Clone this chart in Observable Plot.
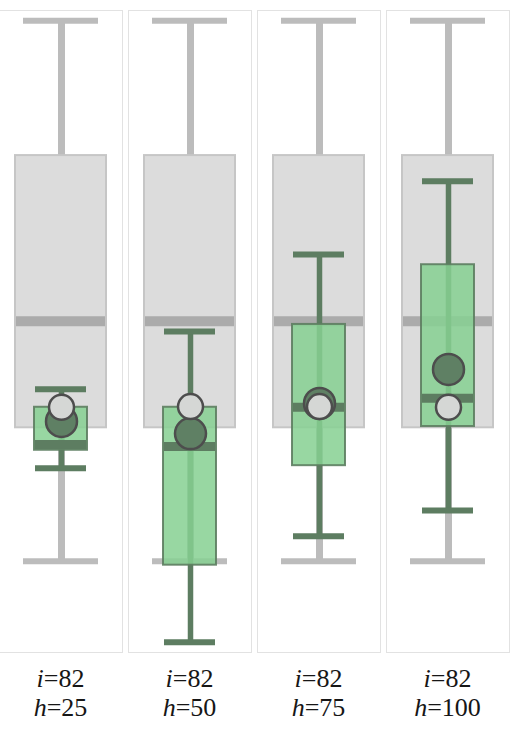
<!DOCTYPE html>
<html>
<head>
<meta charset="utf-8">
<script src="https://cdn.jsdelivr.net/npm/d3@7"></script>
<script src="https://cdn.jsdelivr.net/npm/@observablehq/plot@0.6"></script>
<style>
  body { margin: 0; background: #fff; }
  #chart { position: relative; width: 519px; }
  .labels {
    position: relative; height: 70px; margin-top: 9px;
    font-family: "Liberation Serif", "Times New Roman", Times, "DejaVu Serif", serif;
    font-size: 26px; line-height: 29px; color: #161616;
  }
  .labels div {
    position: absolute; top: 0; text-align: center;
    font-family: "Liberation Serif", "Times New Roman", Times, "DejaVu Serif", serif;
  }
</style>
</head>
<body>
<div id="chart"></div>
<script>
// panel conditions
const hLevels = [25, 50, 75, 100];
const iLevels = [82, 82, 82, 82];

// green boxes, one per panel (values on a 0-100 scale)
const whiskerLow = [28.7, 1.6, 18.1, 22.1];
const boxLow = [31.5, 13.6, 29.1, 35.2];
const medians = [32.4, 32.1, 38.2, 39.6];
const boxHigh = [38.2, 38.2, 51.1, 60.4];
const whiskerHigh = [41.0, 50.0, 62.0, 73.4];
const darkDots = [36.0, 34.1, 38.8, 44.1];
const lightDots = [38.2, 38.3, 38.3, 38.2];

// grey reference box, the same in every panel: low whisker, q1, median, q3, high whisker
const baseline = [14.2, 35.0, 51.6, 77.4, 98.4];

const rows = hLevels.map((h, k) => ({
  h, i: iLevels[k],
  lo: whiskerLow[k], q1: boxLow[k], med: medians[k], q3: boxHigh[k], hi: whiskerHigh[k],
  dark: darkDots[k], light: lightDots[k],
  bLo: baseline[0], bQ1: baseline[1], bMed: baseline[2], bQ3: baseline[3], bHi: baseline[4]
}));

const grey = "#bcbcbc";
const green = "#5d7d61";
const mid = () => "mid"; // every panel has one centred slot

const chart = Plot.plot({
  width: 519,
  height: 655,
  marginTop: 10,
  marginBottom: 3,
  marginLeft: -3,
  marginRight: 8,
  fx: {axis: null, paddingInner: 0.046, paddingOuter: 0},
  x: {type: "point", axis: null},
  y: {domain: [0, 100], axis: null},
  marks: [
    Plot.frame({stroke: "#e2e2e2"}),

    // grey reference
    Plot.ruleX(rows, {fx: "h", x: mid, y1: "bLo", y2: "bHi", stroke: grey, strokeWidth: 7}),
    Plot.tickY(rows, {fx: "h", y: "bLo", stroke: grey, strokeWidth: 6, insetLeft: 24, insetRight: 24}),
    Plot.tickY(rows, {fx: "h", y: "bHi", stroke: grey, strokeWidth: 6, insetLeft: 24, insetRight: 24}),
    Plot.barY(rows, {fx: "h", y1: "bQ1", y2: "bQ3", fill: "#dcdcdc", stroke: "#c6c6c6", strokeWidth: 2, insetLeft: 16, insetRight: 16}),
    Plot.tickY(rows, {fx: "h", y: "bMed", stroke: "#ababab", strokeWidth: 10, insetLeft: 17, insetRight: 17}),

    // green condition
    Plot.ruleX(rows, {fx: "h", x: mid, y1: "lo", y2: "hi", stroke: green, strokeWidth: 5.5}),
    Plot.tickY(rows, {fx: "h", y: "lo", stroke: green, strokeWidth: 6, insetLeft: 36, insetRight: 36}),
    Plot.tickY(rows, {fx: "h", y: "hi", stroke: green, strokeWidth: 6, insetLeft: 36, insetRight: 36}),
    Plot.barY(rows, {fx: "h", y1: "q1", y2: "q3", fill: "#86d092", fillOpacity: 0.85, stroke: green, strokeOpacity: 0.9, strokeWidth: 2, insetLeft: 35, insetRight: 35}),
    Plot.tickY(rows, {fx: "h", y: "med", stroke: green, strokeWidth: 9, insetLeft: 36, insetRight: 36}),

    // markers
    Plot.dot(rows, {fx: "h", x: mid, y: "dark", r: 15.5, fill: "#5f8064", stroke: "#4d4d4d", strokeWidth: 2.5}),
    Plot.dot(rows, {fx: "h", x: mid, y: "light", r: 12.5, fill: "#d5d7d5", stroke: "#4d4d4d", strokeWidth: 2.5})
  ]
});

const holder = document.getElementById("chart");
holder.append(chart);

// panel labels under the chart, placed with the fx scale
const fx = chart.scale("fx");
const labels = document.createElement("div");
labels.className = "labels";
rows.forEach(d => {
  const el = document.createElement("div");
  el.style.left = fx.apply(d.h) + "px";
  el.style.width = fx.bandwidth + "px";
  el.innerHTML = `<i>i</i>=${d.i}<br><i>h</i>=${d.h}`;
  labels.append(el);
});
holder.append(labels);
</script>
</body>
</html>
